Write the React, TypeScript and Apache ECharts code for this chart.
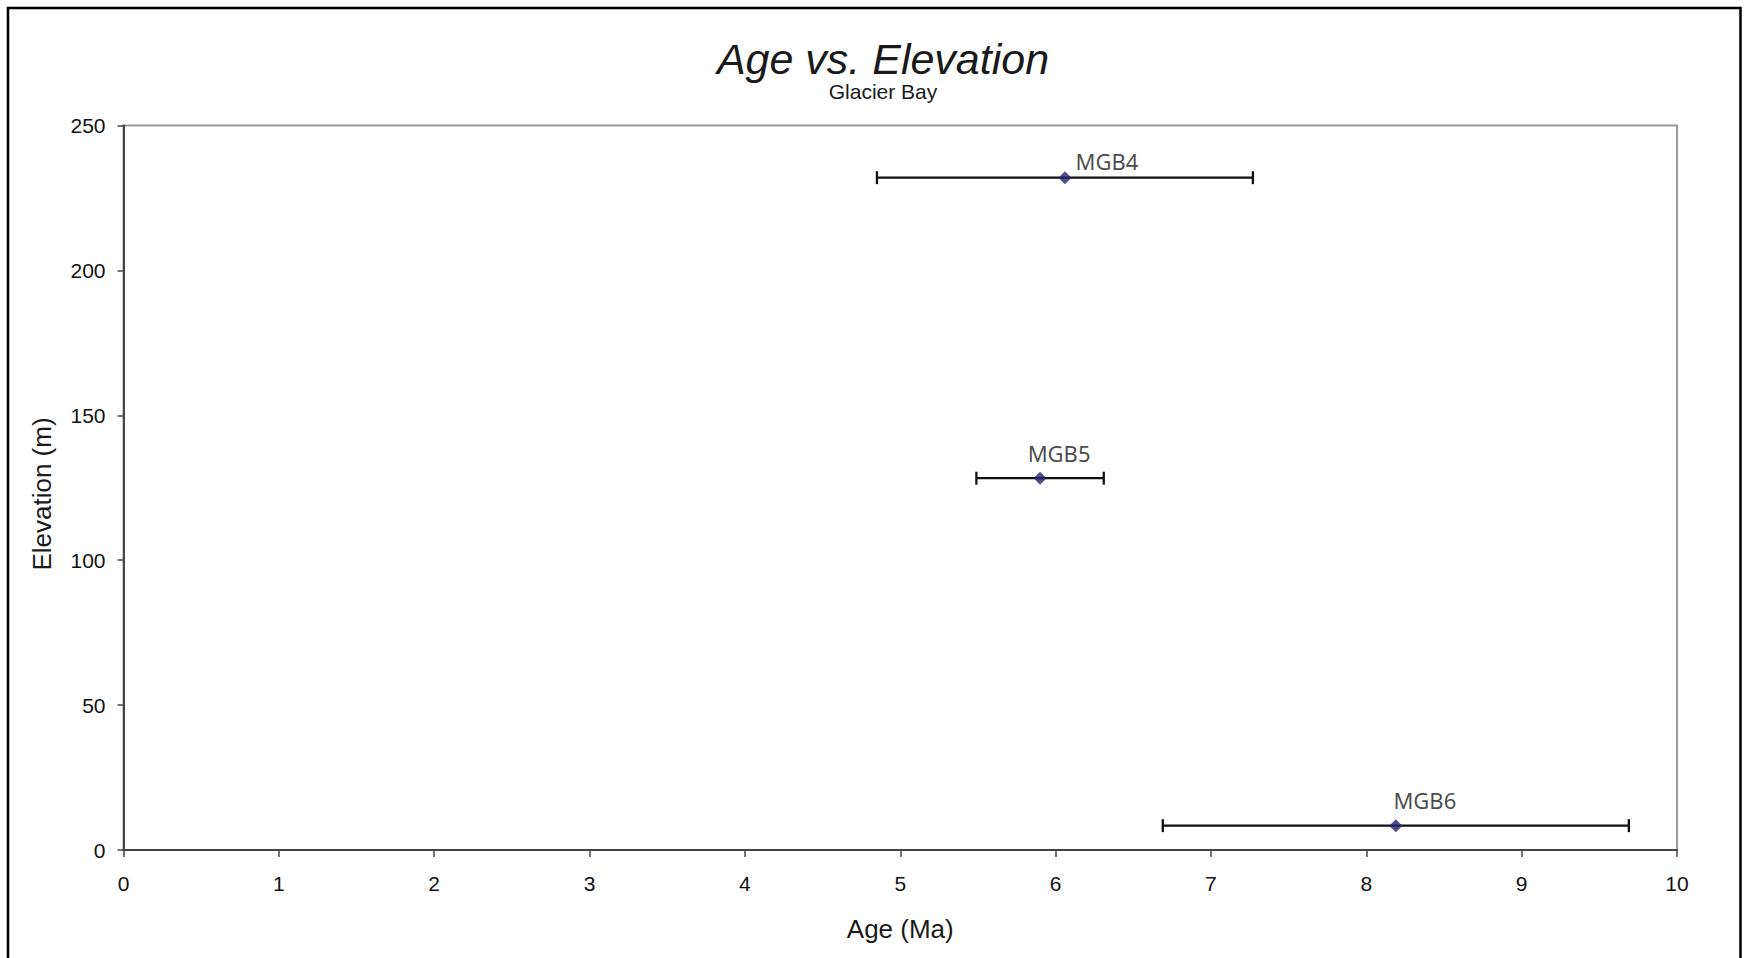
import React, { useEffect, useRef } from "react";
import * as echarts from "echarts";

// ---- Data ----
const sampleNames = ["MGB4", "MGB5", "MGB6"];
const ages = [6.06, 5.9, 8.19]; // Ma
const elevations = [232, 128.3, 8.4]; // m
const ageErrors = [1.21, 0.41, 1.5]; // ± Ma

const xTickMin = 0;
const xTickMax = 10;
const xTickStep = 1;
const yTickMin = 0;
const yTickMax = 250;
const yTickStep = 50;

const titleText = "Age vs. Elevation";
const subtitleText = "Glacier Bay";
const xAxisName = "Age (Ma)";
const yAxisName = "Elevation (m)";

// label placement (pixels, relative to point) – styling only
const labelOffsets: [number, number][] = [
  [42, -17],
  [19, -25],
  [29, -26],
];

const FONT = "'Liberation Sans', Arial, sans-serif";

export default function App() {
  const ref = useRef<HTMLDivElement>(null);

  useEffect(() => {
    if (!ref.current) return;
    const chart = echarts.init(ref.current, undefined, { renderer: "svg" });

    const errData = sampleNames.map((n, i) => [
      ages[i],
      elevations[i],
      ages[i] - ageErrors[i],
      ages[i] + ageErrors[i],
    ]);

    const pointData = sampleNames.map((n, i) => ({
      name: n,
      value: [ages[i], elevations[i]],
      label: { offset: labelOffsets[i] },
    }));

    const option: any = {
      animation: false,
      backgroundColor: "#ffffff",
      grid: {
        left: 123.5,
        right: 72,
        top: 125.5,
        bottom: 108,
        show: true,
        borderColor: "#9a9a9a",
        borderWidth: 2,
        backgroundColor: "transparent",
      },
      graphic: [
        {
          type: "rect",
          shape: { x: 8, y: 8, width: 1732.5, height: 1000 },
          style: { fill: "none", stroke: "#000", lineWidth: 2.5 },
          silent: true,
        },
        {
          type: "text",
          x: 883,
          y: 59,
          style: {
            text: titleText,
            font: `italic 43px ${FONT}`,
            fill: "#1a1a1a",
            textAlign: "center",
            textVerticalAlign: "middle",
          },
        },
        {
          type: "text",
          x: 883,
          y: 91.5,
          style: {
            text: subtitleText,
            font: `21px ${FONT}`,
            fill: "#1a1a1a",
            textAlign: "center",
            textVerticalAlign: "middle",
          },
        },
        {
          type: "text",
          x: 41.5,
          y: 494,
          rotation: Math.PI / 2,
          style: {
            text: yAxisName,
            font: `26px ${FONT}`,
            fill: "#1a1a1a",
            textAlign: "center",
            textVerticalAlign: "middle",
          },
        },
      ],
      xAxis: {
        type: "value",
        min: xTickMin,
        max: xTickMax,
        interval: xTickStep,
        name: xAxisName,
        nameLocation: "middle",
        nameGap: 66,
        nameTextStyle: { fontFamily: FONT, fontSize: 26, color: "#1a1a1a" },
        axisLine: { show: true, onZero: false, lineStyle: { color: "#444", width: 2 } },
        axisTick: { show: true, length: 7, lineStyle: { color: "#444", width: 1.5 } },
        axisLabel: { margin: 23, fontFamily: FONT, fontSize: 21, color: "#111" },
        splitLine: { show: false },
      },
      yAxis: {
        type: "value",
        min: yTickMin,
        max: yTickMax,
        interval: yTickStep,
        axisLine: { show: true, onZero: false, lineStyle: { color: "#444", width: 2 } },
        axisTick: { show: true, length: 6, lineStyle: { color: "#444", width: 1.5 } },
        axisLabel: { margin: 18, fontFamily: FONT, fontSize: 21, color: "#111" },
        splitLine: { show: false },
      },
      series: [
        {
          type: "custom",
          name: "error",
          data: errData,
          encode: { x: [0, 2, 3], y: 1 },
          z: 2,
          renderItem: (params: any, api: any) => {
            const y = api.value(1);
            const lo = api.coord([api.value(2), y]);
            const hi = api.coord([api.value(3), y]);
            const h = 6.5;
            const style = { stroke: "#111", lineWidth: 2.3 };
            return {
              type: "group",
              children: [
                { type: "line", shape: { x1: lo[0], y1: lo[1], x2: hi[0], y2: hi[1] }, style },
                { type: "line", shape: { x1: lo[0], y1: lo[1] - h, x2: lo[0], y2: lo[1] + h }, style },
                { type: "line", shape: { x1: hi[0], y1: hi[1] - h, x2: hi[0], y2: hi[1] + h }, style },
              ],
            };
          },
        },
        {
          type: "scatter",
          name: "samples",
          data: pointData,
          symbol: "diamond",
          symbolSize: 13,
          z: 3,
          itemStyle: { color: "#23236e" },
          label: {
            show: true,
            position: "inside",
            formatter: "{b}",
            fontFamily: "'Noto Sans', 'Open Sans', sans-serif",
            fontSize: 22,
            color: "#1a1a1a",
            align: "center",
            verticalAlign: "middle",
          },
        },
      ],
    };

    chart.setOption(option);
    return () => chart.dispose();
  }, []);

  return (
    <div
      ref={ref}
      style={{ position: "absolute", left: 0, top: 0, width: 1749, height: 958 }}
    />
  );
}
